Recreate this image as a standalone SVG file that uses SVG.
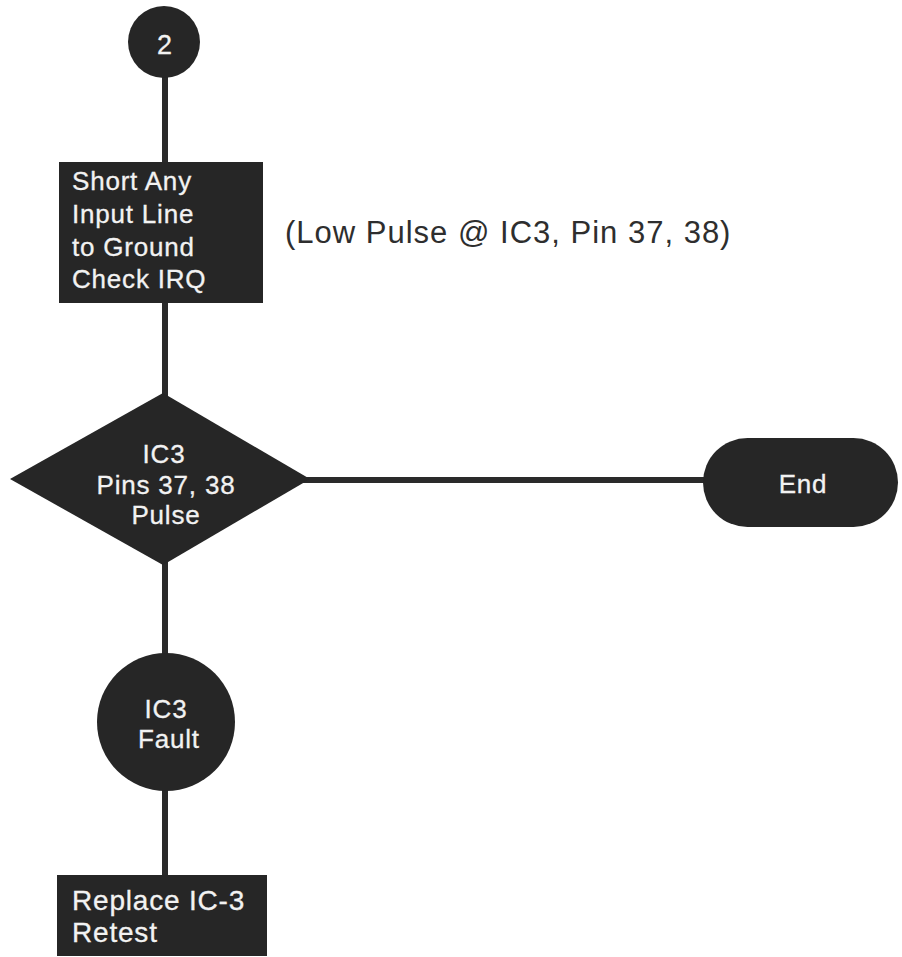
<svg xmlns="http://www.w3.org/2000/svg" width="902" height="957" viewBox="0 0 902 957">
  <style>
    .shape { fill: #262626; }
    .wire { stroke: #2a2a2a; stroke-width: 6; fill: none; }
    .lbl { font-family: "Liberation Sans", Arial, sans-serif; font-size: 26px; letter-spacing: 0.8px; fill: #f2f2f2; stroke: #f2f2f2; stroke-width: 0.3; }
    .big { font-size: 28px; letter-spacing: 0.8px; }
    .mid { text-anchor: middle; }
    .note { font-family: "Liberation Sans", Arial, sans-serif; font-size: 31px; letter-spacing: 1px; fill: #2e2e2e; }
  </style>
  <rect width="902" height="957" fill="#ffffff"/>

  <!-- connectors -->
  <g id="connectors">
    <line class="wire" x1="165" y1="70" x2="165" y2="165"/>
    <line class="wire" x1="165" y1="300" x2="165" y2="396"/>
    <line class="wire" x1="300" y1="480" x2="710" y2="480"/>
    <line class="wire" x1="165" y1="560" x2="165" y2="656"/>
    <line class="wire" x1="165" y1="788" x2="165" y2="878"/>
  </g>

  <!-- off-page connector 2 -->
  <g id="node-connector-2">
    <circle class="shape" cx="164" cy="42" r="36"/>
    <text class="lbl mid" x="165" y="54" style="font-size:27px">2</text>
  </g>

  <!-- action box -->
  <g id="node-short-input">
    <rect class="shape" x="59" y="162" width="204" height="141"/>
    <text class="lbl" x="72" y="190">Short Any</text>
    <text class="lbl" x="72" y="223">Input Line</text>
    <text class="lbl" x="72" y="256">to Ground</text>
    <text class="lbl" x="72" y="288">Check IRQ</text>
  </g>

  <!-- annotation -->
  <g id="note-low-pulse">
    <text class="note" x="285" y="243">(Low Pulse @ IC3, Pin 37, 38)</text>
  </g>

  <!-- decision -->
  <g id="node-decision">
    <polygon class="shape" points="163,393 310,479 163,565 10,479"/>
    <text class="lbl mid" x="164" y="463">IC3</text>
    <text class="lbl mid" x="166" y="494">Pins 37, 38</text>
    <text class="lbl mid" x="166" y="524">Pulse</text>
  </g>

  <!-- terminator -->
  <g id="node-end">
    <rect class="shape" x="703" y="438" width="195" height="89" rx="44.5" ry="44.5"/>
    <text class="lbl mid" x="803" y="493">End</text>
  </g>

  <!-- fault circle -->
  <g id="node-ic3-fault">
    <circle class="shape" cx="166" cy="722" r="69"/>
    <text class="lbl mid" x="166" y="718">IC3</text>
    <text class="lbl mid" x="169" y="748">Fault</text>
  </g>

  <!-- final action box -->
  <g id="node-replace">
    <rect class="shape" x="57" y="875" width="210" height="81"/>
    <text class="lbl big" x="72" y="910">Replace IC-3</text>
    <text class="lbl big" x="72" y="942">Retest</text>
  </g>
</svg>
